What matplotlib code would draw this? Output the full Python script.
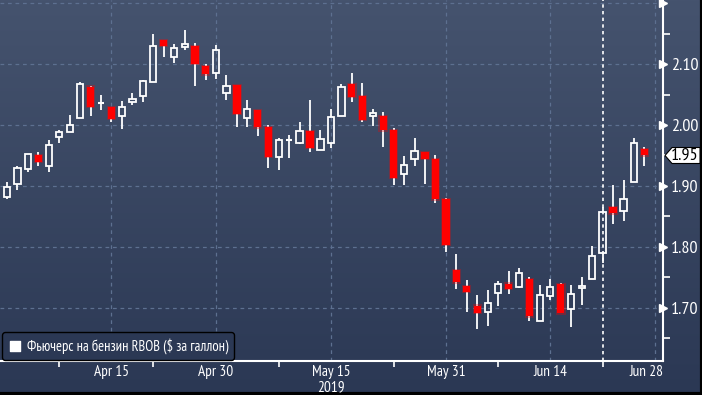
import numpy as np
import pandas as pd
import matplotlib
matplotlib.use('Agg')
import matplotlib.pyplot as plt
from matplotlib.patches import Rectangle, Polygon
from matplotlib.colors import LinearSegmentedColormap

# RBOB gasoline futures, daily candles, Apr 1 - Jun 27 2019
dates = pd.bdate_range('2019-04-01', '2019-06-27')
dates = dates[~dates.isin(pd.to_datetime(['2019-04-19', '2019-05-27']))]

opens = [1.882, 1.903, 1.928, 1.950, 1.933, 1.980, 1.988, 2.011, 2.063, 2.036,
         2.029, 2.014, 2.038, 2.048, 2.071, 2.139, 2.112, 2.128, 2.129, 2.097,
         2.085, 2.052, 2.066, 2.011, 2.024, 1.996, 1.948, 1.975, 1.971, 1.990,
         1.959, 1.970, 2.015, 2.067, 2.047, 2.014, 2.014, 1.991, 1.919, 1.944,
         1.956, 1.944, 1.878, 1.762, 1.736, 1.704, 1.694, 1.724, 1.740, 1.735,
         1.747, 1.679, 1.720, 1.739, 1.698, 1.732, 1.747, 1.790, 1.865, 1.859,
         1.907, 1.961]
highs = [1.907, 1.932, 1.952, 1.956, 1.975, 1.992, 2.016, 2.070, 2.064, 2.049,
         2.029, 2.039, 2.052, 2.074, 2.149, 2.140, 2.133, 2.156, 2.135, 2.100,
         2.131, 2.082, 2.066, 2.041, 2.024, 2.000, 1.978, 1.984, 2.005, 2.041,
         1.992, 2.026, 2.068, 2.085, 2.069, 2.026, 2.021, 1.995, 1.949, 1.979,
         1.956, 1.951, 1.880, 1.789, 1.746, 1.721, 1.730, 1.745, 1.761, 1.766,
         1.750, 1.737, 1.748, 1.741, 1.738, 1.751, 1.801, 1.865, 1.902, 1.909,
         1.978, 1.964]
lows = [1.879, 1.893, 1.923, 1.932, 1.923, 1.971, 1.988, 2.011, 2.015, 2.025,
        2.005, 1.994, 2.033, 2.037, 2.071, 2.112, 2.102, 2.123, 2.064, 2.074,
        2.075, 2.041, 1.997, 1.997, 1.982, 1.930, 1.926, 1.946, 1.969, 1.956,
        1.959, 1.963, 2.015, 2.037, 2.005, 1.998, 1.964, 1.902, 1.902, 1.932,
        1.904, 1.872, 1.791, 1.731, 1.694, 1.665, 1.671, 1.704, 1.723, 1.733,
        1.678, 1.678, 1.713, 1.691, 1.668, 1.705, 1.747, 1.773, 1.838, 1.843,
        1.907, 1.933]
closes = [1.898, 1.929, 1.952, 1.940, 1.968, 1.988, 2.000, 2.068, 2.030, 2.036,
          2.010, 2.030, 2.043, 2.072, 2.129, 2.130, 2.127, 2.133, 2.100, 2.083,
          2.123, 2.064, 2.018, 2.026, 1.996, 1.948, 1.975, 1.975, 1.990, 1.963,
          1.977, 2.013, 2.062, 2.046, 2.009, 2.019, 1.991, 1.913, 1.934, 1.957,
          1.945, 1.878, 1.803, 1.742, 1.726, 1.692, 1.708, 1.739, 1.731, 1.757,
          1.686, 1.721, 1.734, 1.691, 1.723, 1.736, 1.786, 1.857, 1.855, 1.878,
          1.970, 1.950]

label_dates = ['2019-04-15', '2019-04-30', '2019-05-15', '2019-05-31', '2019-06-14', '2019-06-28']
label_text = ['Apr 15', 'Apr 30', 'May 15', 'May 31', 'Jun 14', 'Jun 28']
mid_dates = ['2019-04-08', '2019-04-22', '2019-05-08', '2019-05-23', '2019-06-07', '2019-06-21']
marker_date = '2019-06-21'
y_major = [1.70, 1.80, 1.90, 2.00, 2.10, 2.20]

bg_top = '#45536e'
bg_bot = '#2b3854'
grid_c = '#5d7090'
red = '#ff0000'
fam = ['PT Sans Narrow', 'Roboto Condensed', 'DejaVu Sans']

fig = plt.figure(figsize=(7.02, 3.95), dpi=100)

# vertical gradient background
bg = fig.add_axes([0, 0, 1, 1], zorder=-5)
cmap = LinearSegmentedColormap.from_list('bg', [bg_bot, bg_top])
bg.imshow(np.linspace(0, 1, 256).reshape(-1, 1), cmap=cmap, origin='lower',
          aspect='auto', extent=[0, 1, 0, 1])
bg.axis('off')
# black border right and bottom
bg.plot([0, 1, 1], [0.002, 0.002, 1], color='black', lw=3, transform=bg.transAxes, clip_on=False)

ax = fig.add_axes([0, 34 / 395, 663 / 702, 361 / 395])
ax.set_facecolor('none')

x = np.arange(len(dates))
def pos(d):
    return float(np.searchsorted(dates, pd.Timestamp(d)))

w = 0.6
for i in x:
    o, h, l, c = opens[i], highs[i], lows[i], closes[i]
    top, bot = max(o, c), min(o, c)
    ax.vlines(i, top, h, color='white', lw=1.3, zorder=3)
    ax.vlines(i, l, bot, color='white', lw=1.3, zorder=3)
    if c < o:
        ax.add_patch(Rectangle((i - 0.45, bot - 0.002), 0.9, top - bot + 0.004,
                               fc=red, ec='none', alpha=0.3, zorder=3))
        ax.add_patch(Rectangle((i - w / 2 - 0.05, bot), w + 0.1, top - bot,
                               fc=red, ec='none', zorder=4))
    elif top - bot < 0.002:
        ax.hlines(c, i - w / 2, i + w / 2, color='white', lw=1.5, zorder=4)
    else:
        ax.add_patch(Rectangle((i - w / 2, bot), w, top - bot,
                               fc='none', ec='white', lw=1.3, zorder=4))

ax.set_xlim(-0.67, 62.78)
ax.set_ylim(1.613, 2.205)

# grid
lpos = [pos(d) for d in label_dates]
for p in lpos:
    ax.axvline(p, color=grid_c, lw=0.9, ls=(0, (3, 3)), zorder=1)
for v in y_major:
    ax.axhline(v, color=grid_c, lw=0.9, ls=(0, (3, 3)), zorder=1)
ax.axvline(pos(marker_date), color='white', lw=1.2, ls=(0, (2, 2)), zorder=5)

for s in ['top', 'left']:
    ax.spines[s].set_visible(False)
for s in ['bottom', 'right']:
    ax.spines[s].set_color('white')
    ax.spines[s].set_linewidth(1.5)

# x ticks
ax.set_xticks([pos(d) for d in mid_dates])
ax.tick_params(axis='x', colors='white', length=4, width=1.2, labelbottom=False)
for p, t in zip(lpos, label_text):
    if p > ax.get_xlim()[1] - 2:
        ax.text(1.0, -0.011, t, transform=ax.transAxes, ha='right', va='top',
                color='white', fontsize=11, family=fam)
    else:
        ax.text(p, -0.011, t, transform=ax.get_xaxis_transform(), ha='center', va='top',
                color='white', fontsize=11, family=fam)
ax.text(pos('2019-05-15'), -0.054, '2019', transform=ax.get_xaxis_transform(), ha='center',
        va='top', color='white', fontsize=11, family=fam)

# y axis on right
ax.yaxis.tick_right()
ax.set_yticks(y_major)
ax.set_yticklabels(['%.2f' % v if v < 2.15 else '' for v in y_major], family=fam)
ax.set_yticks(np.arange(1.65, 2.2, 0.1), minor=True)
ax.tick_params(axis='y', which='major', length=0, pad=6, colors='white', labelsize=13)
ax.tick_params(axis='y', which='minor', length=5, width=1.2, colors='white')
ax.plot([1.0] * len(y_major), y_major, marker='>', ms=6, color='white', ls='none',
        transform=ax.get_yaxis_transform(), clip_on=False, zorder=6)

# last price tag
px, py = ax.get_yaxis_transform().transform((1.0, closes[-1]))
tag = Polygon([(px + 2, py), (px + 9, py + 8), (px + 37, py + 8), (px + 37, py - 8),
               (px + 9, py - 8)], closed=True, fc='white', ec='black', lw=0.8,
              transform=None, zorder=7)
fig.patches.append(tag)
fig.text((px + 22) / fig.bbox.width, py / fig.bbox.height, '%.2f' % closes[-1],
         ha='center', va='center', color='black', fontsize=13, family=fam, zorder=8)

# legend
h = ax.scatter([], [], marker='s', s=60, color='white')
leg = ax.legend([h], ['Фьючерс на бензин RBOB ($ за галлон)'], loc='lower left',
                bbox_to_anchor=(0.003, 0.004), borderaxespad=0, fancybox=True,
                framealpha=1, facecolor=bg_bot, edgecolor='black', handlelength=1.0,
                handletextpad=0.3, borderpad=0.4, prop={'family': fam, 'size': 10.5})
for t in leg.get_texts():
    t.set_color('white')
leg.set_zorder(10)

fig.savefig('out.png', dpi=100, facecolor=bg_bot)
